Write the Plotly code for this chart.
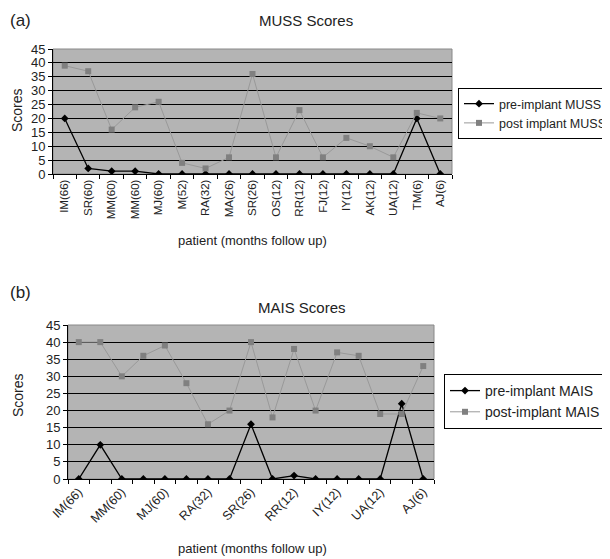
import plotly.graph_objects as go

patients = ["IM(66)", "SR(60)", "MM(60)", "MM(60)", "MJ(60)", "M(52)", "RA(32)", "MA(26)",
            "SR(26)", "OS(12)", "RR(12)", "FJ(12)", "IY(12)", "AK(12)", "UA(12)", "TM(6)", "AJ(6)"]
muss_pre = [20, 2, 1, 1, 0, 0, 0, 0, 0, 0, 0, 0, 0, 0, 0, 20, 0]
muss_post = [39, 37, 16, 24, 26, 4, 2, 6, 36, 6, 23, 6, 13, 10, 6, 22, 20]
mais_pre = [0, 10, 0, 0, 0, 0, 0, 0, 16, 0, 1, 0, 0, 0, 0, 22, 0]
mais_post = [40, 40, 30, 36, 39, 28, 16, 20, 40, 18, 38, 20, 37, 36, 19, 19, 33]
y_ticks = [0, 5, 10, 15, 20, 25, 30, 35, 40, 45]

W, H = 610, 559
OFF = 8  # page body margin offset
FONT = "Arial, Liberation Sans, sans-serif"
BG = "#b4b4b4"
PRE_C = "#000000"
POST_C = "#808080"
POST_LINE = "#999999"

xs = list(range(len(patients)))

def px(v):
    return (v - OFF) / W

def py(v):
    return 1 - (v - OFF) / H

fig = go.Figure()

# top chart
fig.add_trace(go.Scatter(x=xs, y=muss_pre, name="pre-implant MUSS", mode="lines+markers",
                         line=dict(color=PRE_C, width=1.3),
                         marker=dict(symbol="diamond", size=6, color=PRE_C),
                         xaxis="x", yaxis="y", legend="legend"))
fig.add_trace(go.Scatter(x=xs, y=muss_post, name="post implant MUSS", mode="lines+markers",
                         line=dict(color=POST_LINE, width=1),
                         marker=dict(symbol="square", size=6, color=POST_C),
                         xaxis="x", yaxis="y", legend="legend"))
# bottom chart
fig.add_trace(go.Scatter(x=xs, y=mais_pre, name="pre-implant MAIS", mode="lines+markers",
                         line=dict(color=PRE_C, width=1.3),
                         marker=dict(symbol="diamond", size=6, color=PRE_C),
                         xaxis="x2", yaxis="y2", legend="legend2"))
fig.add_trace(go.Scatter(x=xs, y=mais_post, name="post-implant MAIS", mode="lines+markers",
                         line=dict(color=POST_LINE, width=1),
                         marker=dict(symbol="square", size=6, color=POST_C),
                         xaxis="x2", yaxis="y2", legend="legend2"))

xcommon = dict(range=[-0.5, len(patients) - 0.5], showgrid=False, zeroline=False,
               showline=True, linecolor="black", linewidth=1, ticks="",
               minor=dict(tick0=-0.5, dtick=1, ticks="outside", ticklen=4,
                          tickcolor="black", showgrid=False),
               tickfont=dict(family=FONT, size=12, color="#222"))
ycommon = dict(range=[0, 45], tickvals=y_ticks, showgrid=True, gridcolor="black", gridwidth=1,
               zeroline=False, showline=True, linecolor="black", linewidth=1,
               ticks="outside", ticklen=4, tickcolor="black",
               tickfont=dict(family=FONT, size=13, color="#222"))

fig.update_layout(
    width=W, height=H, margin=dict(l=0, r=0, t=0, b=0, autoexpand=False),
    paper_bgcolor="white", plot_bgcolor=BG,
    font=dict(family=FONT, color="#222"),
    xaxis=dict(xcommon, domain=[px(53), px(452)], anchor="y",
               tickvals=xs, ticktext=patients, tickangle=-90,
               tickfont=dict(family=FONT, size=11.5, color="#222")),
    yaxis=dict(ycommon, domain=[py(174), py(49)], anchor="x"),
    xaxis2=dict(xcommon, domain=[px(68), px(434)], anchor="y2",
                tickvals=xs[::2], ticktext=patients[::2], tickangle=-45,
                tickfont=dict(family=FONT, size=12.5, color="#222")),
    yaxis2=dict(ycommon, domain=[py(479), py(325)], anchor="x2"),
    legend=dict(x=px(458), y=py(88), xanchor="left", yanchor="top",
                bordercolor="black", borderwidth=1, bgcolor="white",
                font=dict(family=FONT, size=12.5, color="#222"),
                tracegroupgap=0, itemwidth=30),
    legend2=dict(x=px(444), y=py(374), xanchor="left", yanchor="top",
                 bordercolor="black", borderwidth=1, bgcolor="white",
                 font=dict(family=FONT, size=14, color="#222"),
                 tracegroupgap=0, itemwidth=30),
    showlegend=True,
)

# gray plot-area borders
for xr, yr in (("x", "y"), ("x2", "y2")):
    fig.add_shape(type="rect", xref=f"{xr} domain", yref=f"{yr} domain",
                  x0=0, x1=1, y0=0, y1=1, line=dict(color="#888888", width=1),
                  layer="below")

def ann(text, x, y, size, angle=0, xanchor="center"):
    fig.add_annotation(text=text, x=px(x), y=py(y), xref="paper", yref="paper",
                       showarrow=False, xanchor=xanchor, yanchor="middle",
                       textangle=angle, font=dict(family=FONT, size=size, color="#222"))

ann("(a)", 8, 20, 17, xanchor="left")
ann("MUSS Scores", 306, 20, 15)
ann("Scores", 17, 110, 14, angle=-90)
ann("patient (months follow up)", 252, 241, 13)

ann("(b)", 8, 292, 17, xanchor="left")
ann("MAIS Scores", 302, 307, 15)
ann("Scores", 18, 395, 14, angle=-90)
ann("patient (months follow up)", 252, 548, 13)

fig.write_html("out.html")
